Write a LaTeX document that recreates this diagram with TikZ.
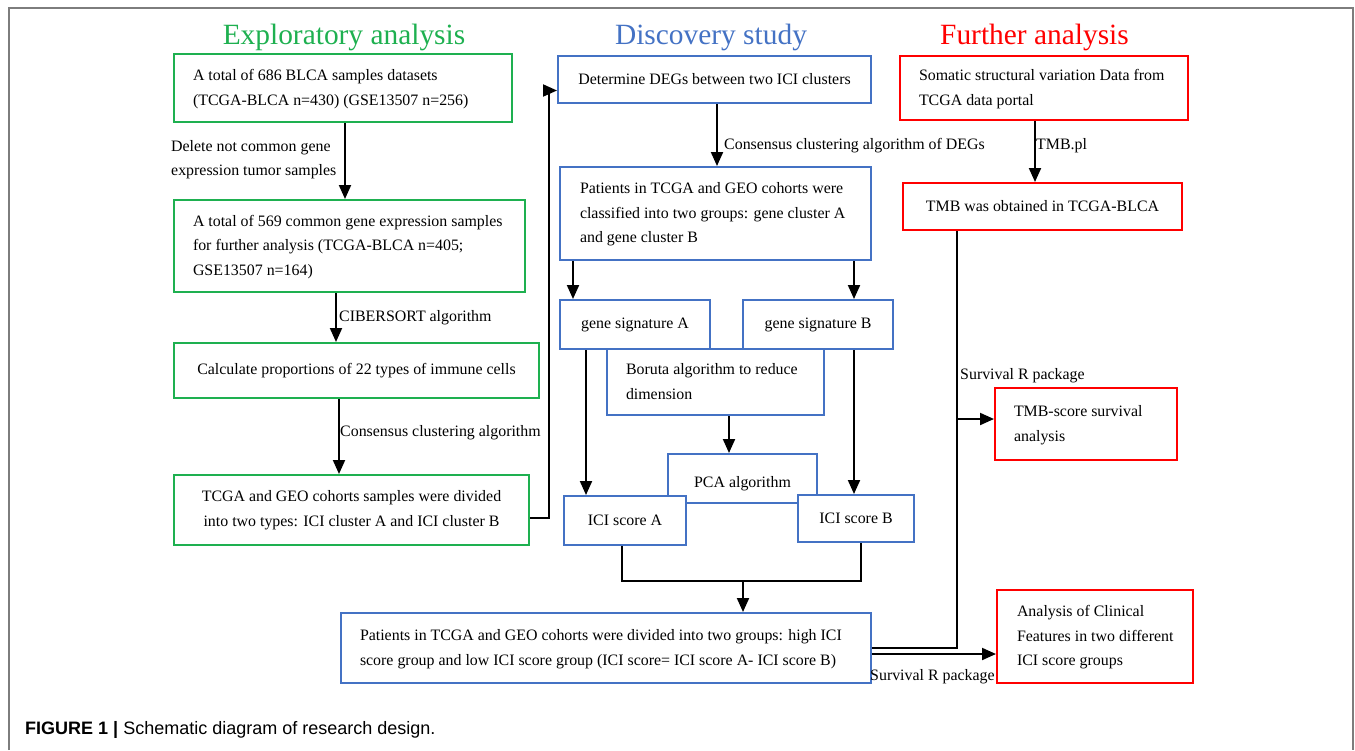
\documentclass[tikz,border=0pt]{standalone}
\usepackage{fontspec}
\setmainfont{Liberation Serif}
\setsansfont{Liberation Sans}
\usetikzlibrary{arrows.meta,calc}
\definecolor{gr}{RGB}{30,176,80}
\definecolor{bl}{RGB}{68,114,196}
\definecolor{rd}{RGB}{255,0,0}
\definecolor{frm}{RGB}{125,125,125}
\newcommand{\lcol}[2]{\makebox[#1][l]{\begin{tabular}{@{}l@{}}#2\end{tabular}}}
\begin{document}
\begin{tikzpicture}[x=1pt,y=-1pt,
  box/.style={draw=#1, line width=2pt, fill=white, inner sep=0pt, anchor=north west,
    font=\fontsize{15.9}{24.5}\selectfont, align=center},
  lbl/.style={inner sep=0pt, anchor=west, align=left, font=\fontsize{15.9}{24.5}\selectfont},
  head/.style={inner sep=0pt, font=\fontsize{29.4}{32}\selectfont},
  ln/.style={line width=2pt, black},
  arr/.style={ln, -{Triangle[length=14pt,width=12pt]}}
]
\useasboundingbox (0,0) rectangle (1355,750);
\draw[frm, line width=1.5pt] (9,750) -- (9,8) -- (1353,8) -- (1353,750);

% headings
\node[head, text=gr] (hE) at (344,37) {Exploratory analysis};
\node[head, text=bl] (hD) at (711,37) {Discovery study};
\node[head, text=rd] (hF) at (1034.5,37) {Further analysis};

% exploratory
\node[box=gr, minimum width=338pt, minimum height=68pt] (e1) at (173,53)
  {\lcol{300pt}{A total of 686 BLCA samples datasets\\(TCGA-BLCA n=430) (GSE13507 n=256)}};
\node[box=gr, minimum width=351pt, minimum height=92pt] (e2) at (173,199)
  {\lcol{313pt}{A total of 569 common gene expression samples\\for further analysis (TCGA-BLCA n=405;\\GSE13507 n=164)}};
\node[box=gr, minimum width=365pt, minimum height=55pt] (e3) at (173,342)
  {Calculate proportions of 22 types of immune cells};
\node[box=gr, minimum width=355pt, minimum height=70pt] (e4) at (173,474)
  {TCGA and GEO cohorts samples were divided\\into two types: ICI cluster A and ICI cluster B};

% discovery
\node[box=bl, minimum width=313pt, minimum height=47pt] (d1) at (557,55)
  {Determine DEGs between two ICI clusters};
\node[box=bl, minimum width=311pt, minimum height=93pt] (d2) at (559,166)
  {\lcol{271pt}{Patients in TCGA and GEO cohorts were\\classified into two groups: gene cluster A\\and gene cluster B}};
\node[box=bl, minimum width=150pt, minimum height=49pt] (ga) at (559,299) {gene signature A};
\node[box=bl, minimum width=150pt, minimum height=49pt] (gb) at (742,299) {gene signature B};
\node[box=bl, minimum width=217pt, minimum height=66pt] (bor) at (606,348)
  {\lcol{179pt}{Boruta algorithm to reduce\\dimension}};
\node[box=bl, minimum width=149pt, minimum height=49pt, text depth=0pt] (pca) at (667,453) {PCA algorithm\strut};
\node[box=bl, minimum width=122pt, minimum height=49pt] (icia) at (563,495) {ICI score A};
\node[box=bl, minimum width=116pt, minimum height=47pt] (icib) at (797,494) {ICI score B};
\node[box=bl, minimum width=530pt, minimum height=70pt] (pat) at (340,612)
  {\lcol{492pt}{Patients in TCGA and GEO cohorts were divided into two groups: high ICI\\score group and low ICI score group (ICI score= ICI score A- ICI score B)}};

% further
\node[box=rd, minimum width=288pt, minimum height=64pt] (f1) at (899,55)
  {\lcol{250pt}{Somatic structural variation Data from\\TCGA data portal}};
\node[box=rd, minimum width=279pt, minimum height=47pt] (f2) at (902,182) {TMB was obtained in TCGA-BLCA};
\node[box=rd, minimum width=182pt, minimum height=72pt] (f3) at (994,387)
  {\lcol{144pt}{TMB-score survival\\analysis}};
\node[box=rd, minimum width=196pt, minimum height=93pt] (f4) at (996,589)
  {\lcol{156pt}{Analysis of Clinical\\Features in two different\\ICI score groups}};

% labels
\node[lbl] (l1) at (171,159.5) {Delete not common gene\\expression tumor samples};
\node[lbl] (l2) at (339,318) {CIBERSORT algorithm};
\node[lbl] (l3) at (340,433) {Consensus clustering algorithm};
\node[lbl] (l4) at (724,146) {Consensus clustering algorithm of DEGs};
\node[lbl] (l5) at (1036,146) {TMB.pl};
\node[lbl] (l6) at (960,376) {Survival R package};
\node[lbl] (l7) at (870,677) {Survival R package};

% caption
\node[inner sep=0pt, anchor=west, font=\sffamily\fontsize{18}{20}\selectfont] (cap) at (25,730)
  {\textbf{FIGURE 1 |} Schematic diagram of research design.};

% connectors: exploratory
\coordinate (e2Top) at ([xshift=-4.5pt]e2.north);
\draw[arr] (e2Top |- e1.south) -- (e2Top);
\coordinate (e3Top) at ([xshift=-20.5pt]e3.north);
\draw[arr] (e3Top |- e2.south) -- (e3Top);
\coordinate (e4Top) at ([xshift=-12.5pt]e4.north);
\draw[arr] (e4Top |- e3.south) -- (e4Top);
\draw[arr] ([yshift=-8pt]e4.east) -- ++(19,0) |- ([yshift=-11pt]d1.west);

% connectors: discovery
\coordinate (dTop) at ([xshift=1.5pt]d2.north);
\draw[arr] (dTop |- d1.south) -- (dTop);
\coordinate (gaTop) at ([xshift=14pt]ga.north west);
\draw[arr] (gaTop |- d2.south) -- (gaTop);
\coordinate (gbTop) at ([xshift=-40pt]gb.north east);
\draw[arr] (gbTop |- d2.south) -- (gbTop);
\coordinate (iaTop) at ([xshift=23pt]icia.north west);
\draw[arr] (iaTop |- ga.south) -- (iaTop);
\coordinate (ibTop) at ([xshift=57pt]icib.north west);
\draw[arr] (ibTop |- gb.south) -- (ibTop);
\coordinate (pcTop) at ([xshift=62pt]pca.north west);
\draw[arr] (pcTop |- bor.south) -- (pcTop);
\coordinate (iaBot) at ([xshift=59pt]icia.south west);
\coordinate (ibBot) at ([xshift=64pt]icib.south west);
\coordinate (mrg) at (743,581);
\draw[ln] (iaBot) |- (mrg) -| (ibBot);
\draw[arr] (mrg) -- (mrg |- pat.north);

% connectors: further
\coordinate (f2Top) at ([xshift=-7.5pt]f2.north);
\draw[arr] (f2Top |- f1.south) -- (f2Top);
\coordinate (trk) at ([xshift=55pt]f2.south west);
\draw[ln] (trk) |- (pat.east);
\coordinate (f3In) at ([yshift=5pt]f3.west);
\draw[arr] (trk |- f3In) -- (f3In);
\coordinate (patOut) at ([yshift=-6pt]pat.east);
\draw[arr] (patOut) -- (patOut -| f4.west);
\end{tikzpicture}
\end{document}
